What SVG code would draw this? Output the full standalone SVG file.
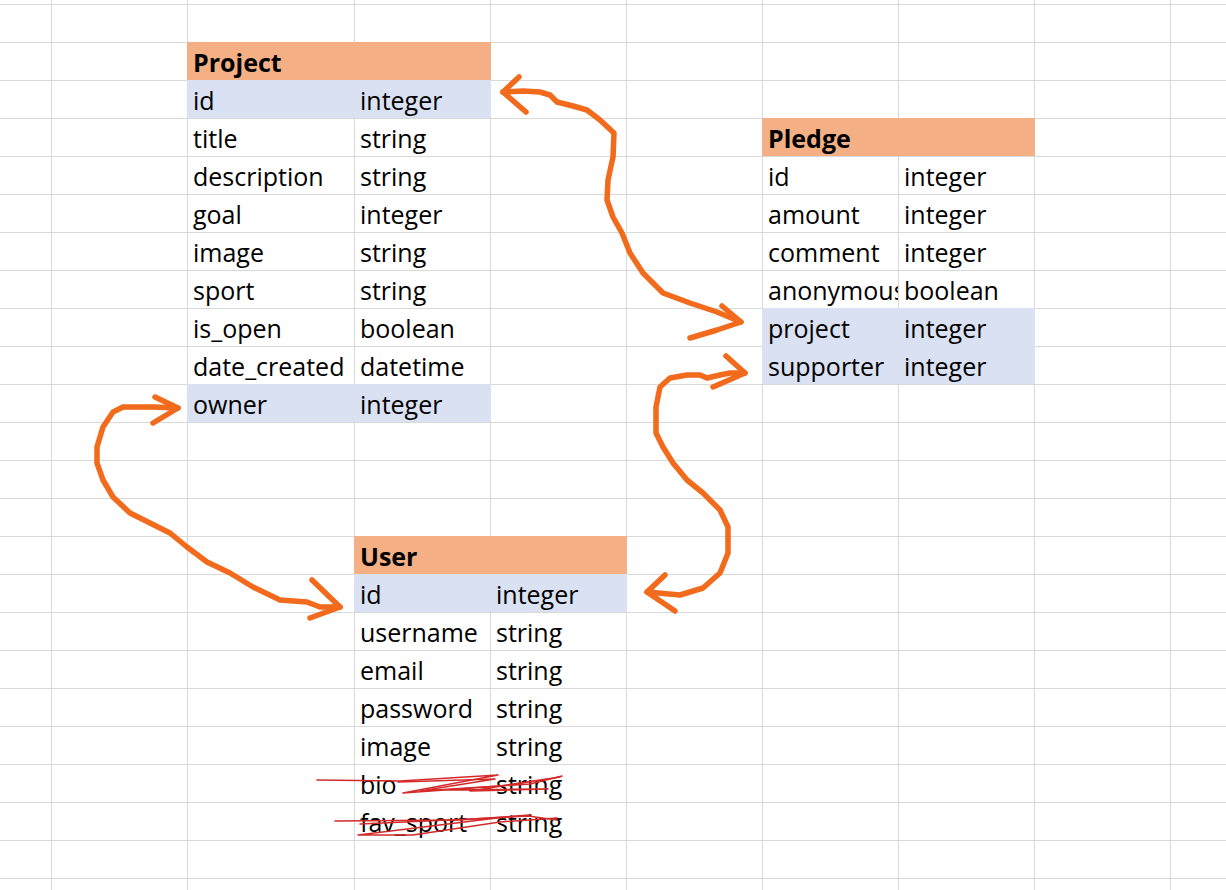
<svg xmlns="http://www.w3.org/2000/svg" width="1226" height="890" viewBox="0 0 1226 890">
<style>
.grid line{stroke:#d9d9d9;stroke-width:1}
.hdr{fill:#f4b084}
.key{fill:#d9e1f2}
text{font-family:"Open Sans","Noto Sans",sans-serif;font-size:25px;fill:#000}
.title{font-weight:bold}
.conn{fill:none;stroke:#f26a1b;stroke-width:5.5;stroke-linecap:round;stroke-linejoin:round}
.strike{fill:none;stroke:#d42a2a;stroke-width:1.6;stroke-linecap:round;stroke-linejoin:round}
</style>
<defs>
<clipPath id="clipAnon"><rect x="762" y="270" width="136" height="38"/></clipPath>
</defs>
<rect width="1226" height="890" fill="#ffffff"/>
<g class="grid">
<line x1="51.5" y1="0" x2="51.5" y2="890"/>
<line x1="187.5" y1="0" x2="187.5" y2="890"/>
<line x1="354.5" y1="0" x2="354.5" y2="890"/>
<line x1="490.5" y1="0" x2="490.5" y2="890"/>
<line x1="626.5" y1="0" x2="626.5" y2="890"/>
<line x1="762.5" y1="0" x2="762.5" y2="890"/>
<line x1="898.5" y1="0" x2="898.5" y2="890"/>
<line x1="1034.5" y1="0" x2="1034.5" y2="890"/>
<line x1="1170.5" y1="0" x2="1170.5" y2="890"/>
<line x1="0" y1="4.5" x2="1226" y2="4.5"/>
<line x1="0" y1="42.5" x2="1226" y2="42.5"/>
<line x1="0" y1="80.5" x2="1226" y2="80.5"/>
<line x1="0" y1="118.5" x2="1226" y2="118.5"/>
<line x1="0" y1="156.5" x2="1226" y2="156.5"/>
<line x1="0" y1="194.5" x2="1226" y2="194.5"/>
<line x1="0" y1="232.5" x2="1226" y2="232.5"/>
<line x1="0" y1="270.5" x2="1226" y2="270.5"/>
<line x1="0" y1="308.5" x2="1226" y2="308.5"/>
<line x1="0" y1="346.5" x2="1226" y2="346.5"/>
<line x1="0" y1="384.5" x2="1226" y2="384.5"/>
<line x1="0" y1="422.5" x2="1226" y2="422.5"/>
<line x1="0" y1="460.5" x2="1226" y2="460.5"/>
<line x1="0" y1="498.5" x2="1226" y2="498.5"/>
<line x1="0" y1="536.5" x2="1226" y2="536.5"/>
<line x1="0" y1="574.5" x2="1226" y2="574.5"/>
<line x1="0" y1="612.5" x2="1226" y2="612.5"/>
<line x1="0" y1="650.5" x2="1226" y2="650.5"/>
<line x1="0" y1="688.5" x2="1226" y2="688.5"/>
<line x1="0" y1="726.5" x2="1226" y2="726.5"/>
<line x1="0" y1="764.5" x2="1226" y2="764.5"/>
<line x1="0" y1="802.5" x2="1226" y2="802.5"/>
<line x1="0" y1="840.5" x2="1226" y2="840.5"/>
<line x1="0" y1="878.5" x2="1226" y2="878.5"/>
</g>

<g id="project">
<rect class="hdr" x="187" y="42" width="304" height="38"/>
<rect class="key" x="187" y="80" width="304" height="38"/>
<rect class="key" x="187" y="384" width="304" height="38"/>
<text class="title" x="193" y="72">Project</text>
<text x="193" y="110">id</text><text x="360" y="110">integer</text>
<text x="193" y="148">title</text><text x="360" y="148">string</text>
<text x="193" y="186">description</text><text x="360" y="186">string</text>
<text x="193" y="224">goal</text><text x="360" y="224">integer</text>
<text x="193" y="262">image</text><text x="360" y="262">string</text>
<text x="193" y="300">sport</text><text x="360" y="300">string</text>
<text x="193" y="338">is_open</text><text x="360" y="338">boolean</text>
<text x="193" y="376">date_created</text><text x="360" y="376">datetime</text>
<text x="193" y="414">owner</text><text x="360" y="414">integer</text>
</g>

<g id="pledge">
<rect class="hdr" x="762" y="118" width="273" height="38"/>
<rect class="key" x="762" y="308" width="273" height="76"/>
<text class="title" x="768" y="148">Pledge</text>
<text x="768" y="186">id</text><text x="904" y="186">integer</text>
<text x="768" y="224">amount</text><text x="904" y="224">integer</text>
<text x="768" y="262">comment</text><text x="904" y="262">integer</text>
<text x="768" y="300" clip-path="url(#clipAnon)">anonymous</text><text x="904" y="300">boolean</text>
<text x="768" y="338">project</text><text x="904" y="338">integer</text>
<text x="768" y="376">supporter</text><text x="904" y="376">integer</text>
</g>

<g id="user">
<rect class="hdr" x="354" y="536" width="273" height="38"/>
<rect class="key" x="354" y="574" width="273" height="38"/>
<text class="title" x="360" y="566">User</text>
<text x="360" y="604">id</text><text x="496" y="604">integer</text>
<text x="360" y="642">username</text><text x="496" y="642">string</text>
<text x="360" y="680">email</text><text x="496" y="680">string</text>
<text x="360" y="718">password</text><text x="496" y="718">string</text>
<text x="360" y="756">image</text><text x="496" y="756">string</text>
<text x="360" y="794">bio</text><text x="496" y="794">string</text>
<text x="360" y="832">fav_sport</text><text x="496" y="832">string</text>
<path class="strike" d="M317,780 L400,781 L498,775 L403,793 L500,786 L560,777 L470,791 L548,789 L445,790"/>
<path class="strike" d="M398,782 L495,779 L420,791 L530,784 L562,776"/>
<path class="strike" d="M335,821 L460,820 L530,815 L497,818 L358,835 L413,835 L500,822 L557,818"/>
<path class="strike" d="M360,824 L470,819 L528,816 L557,820"/>
</g>

<g id="connectors">
<path class="conn" d="M503,92 L523,91 L540,92 L550,95 L557,102 L573,106 L587,110 L600,120 L614,133 L613,157 L608,180 L607,200 L613,217 L622,233 L630,253 L643,273 L663,293 L690,303 L717,312 L741,322"/>
<path class="conn" d="M519,77 L503,92 L526,112"/>
<path class="conn" d="M722,306 L741,322 L717,330 L690,338"/>

<path class="conn" d="M178,408 L153,407 L123,407 L113,412 L103,427 L97,447 L97,463 L103,480 L113,497 L130,513 L150,523 L170,533 L187,547 L207,562 L230,573 L253,587 L280,600 L307,602 L320,607 L340,607"/>
<path class="conn" d="M155,397 L178,408 L153,423"/>
<path class="conn" d="M312,580 L340,607 L310,618"/>

<path class="conn" d="M745,373 L730,373 L720,375 L707,378 L700,375 L687,375 L670,378 L660,387 L656,407 L656,433 L663,447 L673,463 L687,480 L703,493 L720,510 L728,527 L728,553 L720,573 L703,588 L680,595 L647,592"/>
<path class="conn" d="M726,356 L745,373 L713,387"/>
<path class="conn" d="M665,575 L647,592 L675,611"/>
</g>
</svg>
